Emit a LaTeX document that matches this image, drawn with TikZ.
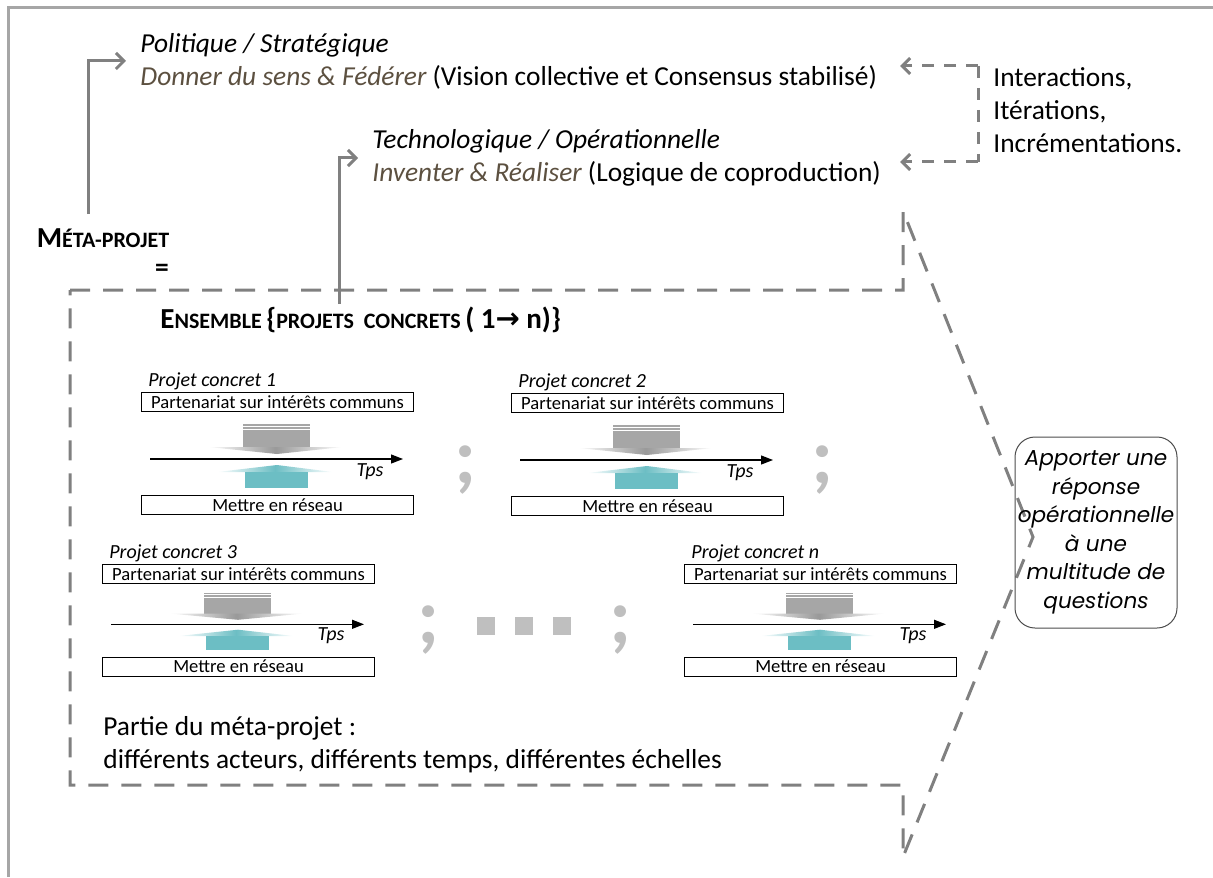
\documentclass[tikz,border=0pt]{standalone}
\usepackage{fontspec}
\setmainfont{Carlito}
\newfontfamily\questfont{Poppins}
\newfontfamily\flechefont{DejaVu Sans}
\usetikzlibrary{arrows.meta}
\definecolor{traitgris}{RGB}{128,128,128}
\definecolor{cadregris}{RGB}{166,166,166}
\definecolor{sens}{RGB}{92,80,64}
\definecolor{sarcelle}{RGB}{108,190,196}
\definecolor{pointgris}{RGB}{191,191,191}
\newcommand\pcap[1]{{\fontsize{11}{12}\selectfont #1}}
\newcommand\grandcap[1]{{\fontsize{14.5}{16}\selectfont #1}}

\tikzset{
  fleche/.style={draw=traitgris, line width=1.5pt, -{Straight Barb[length=4pt,width=8pt]}},
  tiretbord/.style={draw=traitgris, line width=1.5pt, dash pattern=on 10pt off 6.5pt},
  tiretfleche/.style={draw=traitgris, line width=1.5pt, dash pattern=on 6pt off 5pt},
  texte/.style={inner sep=0pt, align=left, font=\fontsize{13.7}{16.5}\selectfont},
  encadre/.style={draw, line width=0.5pt, minimum width=136pt, minimum height=9.5pt,
    inner sep=0pt, font=\fontsize{9.3}{10}\selectfont},
  axe/.style={line width=0.6pt, -{Triangle[length=6pt,width=4.5pt]}},
  pointvirgule/.style={inner sep=0pt, text=pointgris, font=\fontsize{40}{40}\selectfont\bfseries},
  carre/.style={fill=pointgris, minimum size=9pt, inner sep=0pt},
}

\begin{document}
\begin{tikzpicture}[x=0.5pt, y=-0.5pt]
  \useasboundingbox (0,0) rectangle (1213,877);
  \draw[cadregris, line width=1.5pt] (8,877) -- (8,8) -- (1213,8);

  % niveaux du meta-projet
  \node[texte, anchor=west] (politique) at (140,61)
    {\textit{Politique / Stratégique}\\{\color{sens}\itshape Donner du sens \& Fédérer} (Vision collective et Consensus stabilisé)};
  \node[texte, anchor=west] (techno) at (372,158)
    {\textit{Technologique / Opérationnelle}\\{\color{sens}\itshape Inventer \& Réaliser} (Logique de coproduction)};
  \node[texte, anchor=west] (iter) at (993,110) {Interactions,\\Itérations,\\Incrémentations.};

  \node[inner sep=0pt, font=\bfseries] (meta) at (103,238) {\grandcap{M}\pcap{ÉTA-PROJET}};
  \node[inner sep=0pt, font=\bfseries\fontsize{13.7}{14}\selectfont] (egal) at (162,270) {=};
  \node[inner sep=0pt, anchor=west, font=\bfseries] (ensemble) at (160,320)
    {\grandcap{E}\pcap{NSEMBLE} \grandcap{\{}\pcap{PROJETS\ \ CONCRETS} \grandcap{( 1{\flechefont →} n)\}}};

  \draw[fleche, shorten <=7pt, shorten >=7pt] ([xshift=-7.5pt]meta.north) |- (politique.west);
  \coordinate (pied) at (339,304);
  \draw[fleche, shorten >=7pt] (pied) |- (techno.west);

  \coordinate (boucleA) at (978,66);
  \coordinate (boucleB) at (978,162);
  \draw[tiretfleche] (boucleA) -- (boucleB);
  \draw[tiretfleche, -{Straight Barb[length=4pt,width=8pt]}] (boucleA) -- (900,66);
  \draw[tiretfleche, -{Straight Barb[length=4pt,width=8pt]}] (boucleB) -- (900,162);

  % cadre des projets concrets
  \draw[tiretbord] (70,290) -- (903,290) -- (903,211) -- (1033,537) -- (903,857)
    -- (903,785) -- (70,785) -- cycle;
  \node[draw=black!70, line width=0.5pt, rounded corners=10pt, minimum width=81pt,
    minimum height=95.5pt, align=center, inner sep=0pt,
    font=\questfont\itshape\fontsize{10.8}{14.25}\selectfont] (question) at (1096,532.5)
    {Apporter une\\réponse\\opérationnelle\\à une\\multitude de\\questions};

  \foreach \bx/\by/\ys/\num in {141/392/1/1, 511/393/1/2, 102/564/0.9/3, 684/564/0.9/n}{
    \begin{scope}[shift={(\bx,\by)}, yscale=\ys]
      \node[anchor=base west, inner sep=0pt, font=\fontsize{10}{11}\selectfont\itshape] (titre\num) at (7,-6) {Projet concret \num};
      \node[encadre, anchor=north west] (haut\num) at (0,0) {Partenariat sur intérêts communs};
      \fill[black!35] (102,32) rectangle (169,55);
      \draw[white, line width=0.4pt] (102,34) -- (169,34) (102,37) -- (169,37);
      \shade[left color=white, right color=white, middle color=black!40] (67,55) -- (202,55) -- (136,62) -- cycle;
      \draw[axe] (9,67) -- (262,67);
      \node[inner sep=0pt, font=\fontsize{10}{11}\selectfont\itshape] (tps\num) at (229,80) {Tps};
      \shade[left color=white, right color=white, middle color=sarcelle] (76,80) -- (136,73) -- (192,80) -- cycle;
      \fill[sarcelle] (104,80) rectangle (167,96);
      \node[encadre, anchor=north west] (bas\num) at (0,103) {Mettre en réseau};
    \end{scope}
  }

  \node[pointvirgule] (pv1) at (466,470) {;};
  \node[pointvirgule] (pv2) at (823,470) {;};
  \node[pointvirgule] (pv3) at (429,630) {;};
  \node[pointvirgule] (pv4) at (621,630) {;};
  \foreach \cx in {486,524,562}
    \node[carre] (carre\cx) at (\cx,626) {};

  \node[texte, anchor=west] (partie) at (103,745)
    {Partie du méta-projet :\\différents acteurs, différents temps, différentes échelles};
\end{tikzpicture}
\end{document}
